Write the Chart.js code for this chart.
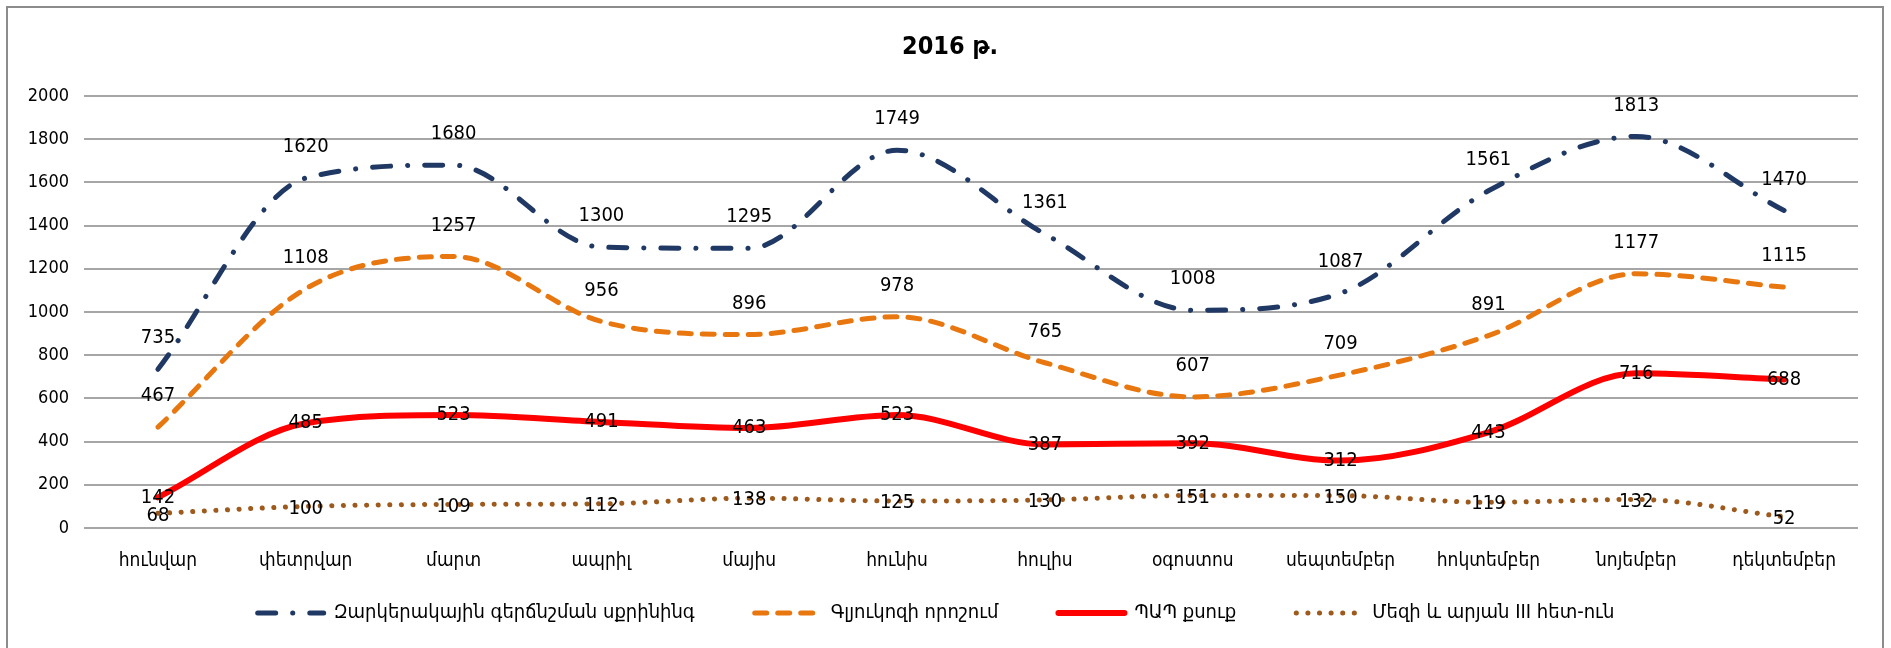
<!DOCTYPE html>
<html>
<head>
<meta charset="utf-8">
<script src="https://cdn.jsdelivr.net/npm/chart.js@4.4.0/dist/chart.umd.min.js"></script>
<style>
  html, body { margin: 0; padding: 0; background: #fff; overflow: hidden; }
  #wrap { position: relative; width: 1891px; height: 648px; overflow: hidden; }
  #frame { position: absolute; left: 6px; top: 6px; width: 1874px; height: 700px; border: 2px solid #8c8c8c; pointer-events: none; }
  #chart { position: absolute; left: 0; top: 0; }
</style>
</head>
<body>
<div id="wrap">
  <canvas id="chart" width="1891" height="670"></canvas>
  <div id="frame"></div>
</div>
<script>
"use strict";

// ամիսներ
var months = ['հունվար', 'փետրվար', 'մարտ', 'ապրիլ', 'մայիս', 'հունիս',
              'հուլիս', 'օգոստոս', 'սեպտեմբեր', 'հոկտեմբեր', 'նոյեմբեր', 'դեկտեմբեր'];

var seriesNames = ['Զարկերակային գերճնշման սքրինինգ', 'Գլյուկոզի որոշում', 'ՊԱՊ քսուք', 'Մեզի և արյան III հետ-ուն'];

var screening = [735, 1620, 1680, 1300, 1295, 1749, 1361, 1008, 1087, 1561, 1813, 1470];
var glucose   = [467, 1108, 1257, 956, 896, 978, 765, 607, 709, 891, 1177, 1115];
var papSmear  = [142, 485, 523, 491, 463, 523, 387, 392, 312, 443, 716, 688];
var urineBlood = [68, 100, 109, 112, 138, 125, 130, 151, 150, 119, 132, 52];

var yTicks = [0, 200, 400, 600, 800, 1000, 1200, 1400, 1600, 1800, 2000];

var FONT = "'DejaVu Sans Condensed', 'DejaVu Sans', sans-serif";

// data labels, drawn by hand (no datalabels plugin offline)
var labelOffsets = [-31, -31, 0, 2];

var valueLabels = {
    id: 'valueLabels',
    afterDatasetsDraw: function (chart) {
        var ctx = chart.ctx;
        ctx.save();
        ctx.font = '20px ' + FONT;
        ctx.fillStyle = '#000';
        ctx.textAlign = 'center';
        ctx.textBaseline = 'middle';
        chart.data.datasets.forEach(function (ds, i) {
            var meta = chart.getDatasetMeta(i);
            meta.data.forEach(function (pt, j) {
                ctx.fillText(String(ds.data[j]), pt.x, pt.y + labelOffsets[i]);
            });
        });
        ctx.restore();
    }
};

// legend padding is also the gap between items, so pull the legend up a bit;
// title sits a little right of the canvas centre in the original
var layoutNudge = {
    id: 'layoutNudge',
    afterLayout: function (chart) {
        chart.legend.top -= 31;
        chart.legend.bottom -= 31;
        chart.titleBlock.left += 14;
        chart.titleBlock.right += 14;
    }
};

function lineSet(name, values, color, width, dash) {
    return {
        label: name,
        data: values,
        borderColor: color,
        backgroundColor: color,
        borderWidth: width,
        borderDash: dash,
        borderCapStyle: 'round',
        borderJoinStyle: 'round',
        cubicInterpolationMode: 'monotone',
        pointRadius: 0,
        pointHoverRadius: 0,
        fill: false
    };
}

var ctx = document.getElementById('chart').getContext('2d');

new Chart(ctx, {
    type: 'line',
    data: {
        labels: months,
        datasets: [
            lineSet(seriesNames[0], screening, '#1f3864', 5, [18, 17, 0.1, 17]),
            lineSet(seriesNames[1], glucose, '#e8770f', 5, [12, 11]),
            lineSet(seriesNames[2], papSmear, '#ff0000', 6, []),
            lineSet(seriesNames[3], urineBlood, '#9e5a1c', 5, [0.1, 11.5])
        ]
    },
    options: {
        responsive: false,
        animation: false,
        events: [],
        layout: { padding: { top: 28, left: 14, right: 33, bottom: 6 } },
        plugins: {
            title: {
                display: true,
                text: '2016 թ.',
                color: '#000',
                font: { family: FONT, size: 25, weight: 'bold' },
                padding: { top: 4, bottom: 34 }
            },
            legend: {
                position: 'bottom',
                labels: {
                    usePointStyle: true,
                    pointStyle: 'line',
                    pointStyleWidth: 66,
                    color: '#000',
                    font: { family: FONT, size: 20 },
                    padding: 60,
                    generateLabels: function (chart) {
                        var items = Chart.defaults.plugins.legend.labels.generateLabels(chart);
                        items.forEach(function (item, i) {
                            var ds = chart.data.datasets[i];
                            item.lineDash = ds.borderDash;
                            item.lineCap = 'round';
                            item.lineWidth = ds.borderWidth;
                            item.strokeStyle = ds.borderColor;
                        });
                        return items;
                    }
                }
            },
            tooltip: { enabled: false }
        },
        scales: {
            x: {
                offset: true,
                grid: { display: false, drawTicks: false },
                border: { display: false },
                ticks: {
                    color: '#000',
                    font: { family: FONT, size: 19 },
                    padding: 22,
                    maxRotation: 0,
                    autoSkip: false
                },
                afterFit: function (scale) { scale.height = 46; }
            },
            y: {
                min: 0,
                max: 2000,
                afterBuildTicks: function (scale) {
                    scale.ticks = yTicks.map(function (v) { return { value: v }; });
                },
                grid: { color: '#a6a6a6', lineWidth: 2, drawTicks: false },
                border: { display: false },
                ticks: {
                    color: '#000',
                    font: { family: FONT, size: 18 },
                    padding: 15,
                    callback: function (v) { return String(v); }
                },
                afterFit: function (scale) { scale.width = 70; }
            }
        }
    },
    plugins: [valueLabels, layoutNudge]
});
</script>
</body>
</html>
